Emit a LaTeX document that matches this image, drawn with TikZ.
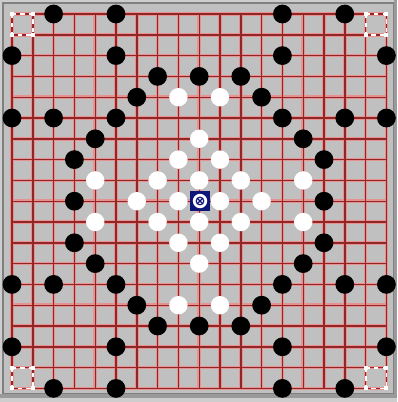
\documentclass[tikz,border=0pt]{standalone}
\usepackage{tikz}
\definecolor{boardgray}{RGB}{192,192,192}
\definecolor{edgegray}{RGB}{205,205,205}
\definecolor{framegray}{RGB}{128,128,128}
\definecolor{gridred}{RGB}{145,38,38}
\definecolor{gridglow}{RGB}{232,145,145}
\definecolor{markblue}{RGB}{12,22,120}

\begin{document}
\begin{tikzpicture}[
    x=0.5pt, y=-0.5pt,
    glowline/.style={gridglow, line width=1.8pt},
    gridline/.style={gridred, line width=0.7pt},
    blackstone/.style={fill=black},
    whitestone/.style={fill=white},
    cornerbox/.style={white, line width=0.9pt, dash pattern=on 2.2pt off 2.2pt},
    cornerdot/.style={fill=white}
  ]
    \useasboundingbox (0,0) rectangle (397,402);
    \def\sp{20.8}

    % Board and frame
    \fill[edgegray] (0,0) rectangle (397,402);
    \fill[boardgray] (3,3) rectangle (393,393);
    \draw[framegray, line width=1pt] (2.5,2.5) rectangle (393.5,393.5);
    \fill[framegray!80] (0,394) rectangle (397,398);
    \fill[framegray!80] (394,0) rectangle (397,398);

    % Grid lines, soft red glow under a dark red core
    \foreach \i in {0,...,18} {
      \draw[glowline] (12+\sp*\i,14) -- (12+\sp*\i,388.4);
      \draw[glowline] (12,14+\sp*\i) -- (386.4,14+\sp*\i);
    }
    \foreach \i in {0,...,18} {
      \draw[gridline] (12+\sp*\i,14) -- (12+\sp*\i,388.4);
      \draw[gridline] (12,14+\sp*\i) -- (386.4,14+\sp*\i);
    }

    % Dashed corner squares
    \foreach \cx/\cy in {0/0, 17/0, 0/17, 17/17} {
      \draw[cornerbox] (12+\sp*\cx,14+\sp*\cy) rectangle (12+\sp*\cx+\sp,14+\sp*\cy+\sp);
      \foreach \dx in {0,1} \foreach \dy in {0,1}
        \fill[cornerdot] (12+\sp*\cx+\sp*\dx-2,14+\sp*\cy+\sp*\dy-2) rectangle ++(4,4);
    }

    % Black stones
    \foreach \c/\r in {2/0, 5/0, 13/0, 16/0,
                       0/2, 5/2, 13/2, 18/2,
                       7/3, 9/3, 11/3,
                       6/4, 12/4,
                       0/5, 2/5, 5/5, 13/5, 16/5, 18/5,
                       4/6, 14/6, 3/7, 15/7, 3/9, 15/9, 3/11, 15/11, 4/12, 14/12,
                       0/13, 2/13, 5/13, 13/13, 16/13, 18/13,
                       6/14, 12/14,
                       7/15, 9/15, 11/15,
                       0/16, 5/16, 13/16, 18/16,
                       2/18, 5/18, 13/18, 16/18}
      \fill[blackstone] (12+\sp*\c,14+\sp*\r) circle[radius=4.7pt];

    % White stones
    \foreach \c/\r in {8/4, 10/4, 9/6, 8/7, 10/7,
                       4/8, 7/8, 9/8, 11/8, 14/8,
                       6/9, 8/9, 10/9, 12/9,
                       4/10, 7/10, 9/10, 11/10, 14/10,
                       8/11, 10/11, 9/12, 8/14, 10/14}
      \fill[whitestone] (12+\sp*\c,14+\sp*\r) circle[radius=4.6pt];

    % Marked centre point
    \fill[markblue] (190,191) rectangle (210,211);
    \fill[white] (200,201) circle[radius=3.6pt];
    \draw[markblue, line width=0.6pt] (200,201) circle[radius=1.9pt];
    \draw[markblue, line width=0.6pt] (197.3,198.3) -- (202.7,203.7) (197.3,203.7) -- (202.7,198.3);
  \end{tikzpicture}
\end{document}
